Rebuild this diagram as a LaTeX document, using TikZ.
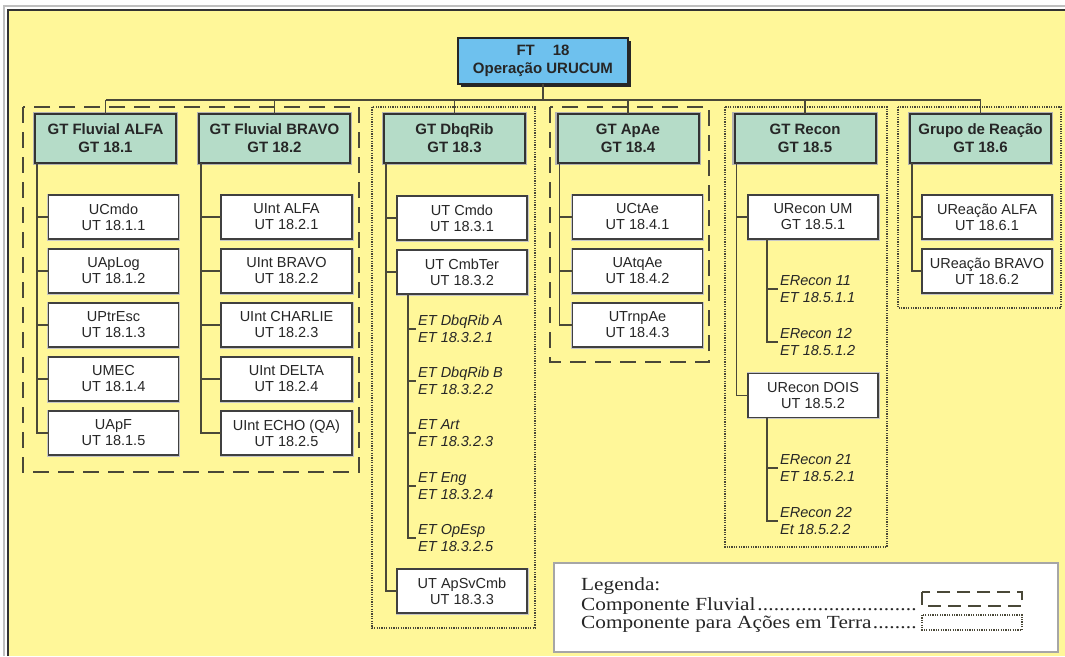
\documentclass[tikz,border=0pt]{standalone}
\usepackage{fontspec}
\setmainfont{Liberation Sans}
\newfontfamily\legfont[FakeStretch=1.15]{Liberation Serif}
\usepackage{xcolor}
\usepackage{tikz}
\usetikzlibrary{positioning,shadows}

\definecolor{bgyellow}{HTML}{FFF799}
\definecolor{ftblue}{HTML}{6EC1EE}
\definecolor{gtgreen}{HTML}{B5DCC8}
\definecolor{linegray}{HTML}{4A4838}
\newcommand\legdots{\leaders\hbox to 5.5pt{\hss.\hss}\hfill}

\tikzset{
  ftbox/.style={draw=black!85, line width=1.5pt, fill=ftblue, minimum width=170pt, minimum height=46pt, align=center, text=black!85, font=\bfseries\fontsize{15}{18}\selectfont, drop shadow={shadow xshift=3pt, shadow yshift=-3pt, fill=black!85, opacity=1}, outer sep=0pt},
  gtbox/.style={draw=black!80, line width=2pt, fill=gtgreen, preaction={draw=gray!60, line width=4.5pt}, minimum width=141pt, minimum height=49pt, align=center, text=black!85, font=\bfseries\fontsize{15}{18}\selectfont, inner sep=1pt, outer sep=0pt},
  utbox/.style={draw=black!75, line width=1.5pt, fill=white, preaction={draw=gray!45, line width=3pt}, minimum width=130pt, minimum height=44pt, align=center, text=black!85, font=\fontsize{14.5}{16}\selectfont, inner sep=1pt, outer sep=0pt},
  etlabel/.style={anchor=west, align=left, inner sep=2pt, text=black!85, font=\itshape\fontsize{14.5}{17}\selectfont},
  legtext/.style={anchor=base west, inner sep=0pt, text=black!85, font=\legfont\fontsize{18.5}{19}\selectfont},
  link/.style={draw=linegray, line width=1.2pt},
  fluvgroup/.style={draw=linegray, line width=2.5pt, dash pattern=on 16pt off 9pt},
  terragroup/.style={draw=linegray, line width=1.8pt, dash pattern=on 1.2pt off 1.2pt},
}

\begin{document}
\begin{tikzpicture}[x=1pt, y=-1pt]
    \useasboundingbox (0,0) rectangle (1065,656);
    \fill[white] (0,0) rectangle (1065,656);
    \fill[bgyellow] (8,10) rectangle (1065,656);
    \draw[gray!50, line width=1.5pt] (4,656) -- (4,6) -- (1065,6);
    \draw[black!80, line width=2.2pt] (8,656) -- (8,10) -- (1065,10);

    % component frames
    \draw[fluvgroup] (23,107) rectangle (359,472);
    \draw[terragroup] (372,107) rectangle (535,628);
    \draw[fluvgroup] (550,107) rectangle (709,362);
    \draw[terragroup] (725,107) rectangle (887,547);
    \draw[terragroup] (898,107) rectangle (1061,308);

    \node[ftbox] (ft) at (543,61) {FT\hspace{18pt}18\\Operação URUCUM};

    \node[gtbox] (gt1) at (105.5,138.5) {GT Fluvial ALFA\\GT 18.1};
    \node[gtbox, minimum width=151pt] (gt2) at (274.5,138.5) {GT Fluvial BRAVO\\GT 18.2};
    \node[gtbox] (gt3) at (454.5,138.5) {GT DbqRib\\GT 18.3};
    \node[gtbox] (gt4) at (628,138.5) {GT ApAe\\GT 18.4};
    \node[gtbox] (gt5) at (805,138.5) {GT Recon\\GT 18.5};
    \node[gtbox] (gt6) at (980.5,138.5) {Grupo de Reação\\GT 18.6};

    \coordinate (bus) at (0,100);
    \draw[link] (ft.south) -- (ft.south |- bus);
    \draw[link] (gt1.north |- bus) -- (gt6.north |- bus);
    \foreach \g in {1,...,6}
        \draw[link] (gt\g.north |- bus) -- (gt\g.north);

    \node[utbox] (u11) at (113.5,217) {UCmdo\\UT 18.1.1};
    \node[utbox, below=10pt of u11] (u12) {UApLog\\UT 18.1.2};
    \node[utbox, below=10pt of u12] (u13) {UPtrEsc\\UT 18.1.3};
    \node[utbox, below=10pt of u13] (u14) {UMEC\\UT 18.1.4};
    \node[utbox, below=10pt of u14] (u15) {UApF\\UT 18.1.5};

    \node[utbox, minimum width=131pt] (u21) at (286.5,217) {UInt ALFA\\UT 18.2.1};
    \node[utbox, minimum width=131pt, below=10pt of u21] (u22) {UInt BRAVO\\UT 18.2.2};
    \node[utbox, minimum width=131pt, below=10pt of u22] (u23) {UInt CHARLIE\\UT 18.2.3};
    \node[utbox, minimum width=131pt, below=10pt of u23] (u24) {UInt DELTA\\UT 18.2.4};
    \node[utbox, minimum width=131pt, below=10pt of u24] (u25) {UInt ECHO (QA)\\UT 18.2.5};

    \node[utbox] (u31) at (462,218) {UT Cmdo\\UT 18.3.1};
    \node[utbox, below=10pt of u31] (u32) {UT CmbTer\\UT 18.3.2};
    \node[utbox] (u33) at (462,591) {UT ApSvCmb\\UT 18.3.3};
    \node[etlabel] (e321) at (416,329) {ET DbqRib A\\ET 18.3.2.1};
    \node[etlabel] (e322) at (416,381) {ET DbqRib B\\ET 18.3.2.2};
    \node[etlabel] (e323) at (416,433) {ET Art\\ET 18.3.2.3};
    \node[etlabel] (e324) at (416,486) {ET Eng\\ET 18.3.2.4};
    \node[etlabel] (e325) at (416,538) {ET OpEsp\\ET 18.3.2.5};

    \node[utbox] (u41) at (637.5,217) {UCtAe\\UT 18.4.1};
    \node[utbox, below=10pt of u41] (u42) {UAtqAe\\UT 18.4.2};
    \node[utbox, below=10pt of u42] (u43) {UTrnpAe\\UT 18.4.3};

    \node[utbox] (u51) at (813,217) {URecon UM\\GT 18.5.1};
    \node[utbox] (u52) at (813,395.5) {URecon DOIS\\UT 18.5.2};
    \node[etlabel] (e511) at (778,289) {ERecon 11\\ET 18.5.1.1};
    \node[etlabel] (e512) at (778,342) {ERecon 12\\ET 18.5.1.2};
    \node[etlabel] (e521) at (778,468) {ERecon 21\\ET 18.5.2.1};
    \node[etlabel] (e522) at (778,521) {ERecon 22\\Et 18.5.2.2};

    \node[utbox] (u61) at (987,217) {UReação ALFA\\UT 18.6.1};
    \node[utbox, below=10pt of u61] (u62) {UReação BRAVO\\UT 18.6.2};

    \foreach \g/\n in {1/5,2/5,3/3,4/3,5/2,6/2}
        \foreach \c in {1,...,\n}
            \draw[link] ([xshift=2pt]gt\g.south west) |- (u\g\c.west);
    \foreach \e in {1,...,5}
        \draw[link] ([xshift=11pt]u32.south west) |- (e32\e.west);
    \foreach \e in {1,2} {
        \draw[link] ([xshift=19pt]u51.south west) |- (e51\e.west);
        \draw[link] ([xshift=19pt]u52.south west) |- (e52\e.west);
    }

    % legenda
    \node[draw=gray!70, line width=2pt, fill=white, minimum width=504pt, minimum height=89pt, outer sep=0pt] (legend) at (806,607.5) {};
    \node[legtext] (legtitle) at (581,590.5) {Legenda:};
    \node[legtext] (legfluv) at (581,610) {\makebox[339pt][l]{Componente Fluvial\legdots}};
    \node[legtext] (legterra) at (581,628) {\makebox[339pt][l]{Componente para Ações em Terra\legdots}};
    \draw[fluvgroup, dash pattern=on 13pt off 7pt] (922,592) rectangle (1022,606);
    \draw[terragroup, line width=1.2pt] (922,615) rectangle (1022,630);
\end{tikzpicture}
\end{document}
